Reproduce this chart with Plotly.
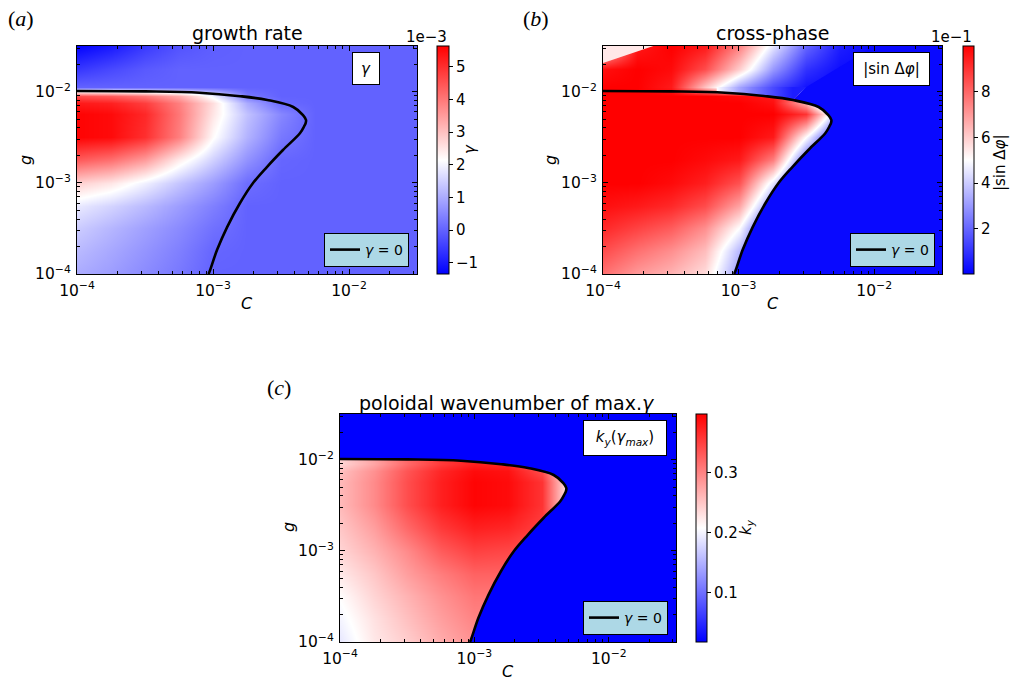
import numpy as np
import plotly.graph_objects as go

W, H = 1010, 681
FONT = "DejaVu Sans"

# ---------------- data ----------------
C_grid = [1.0e-4, 1.78e-4, 3.16e-4, 5.62e-4, 1.0e-3, 1.78e-3, 3.16e-3, 5.62e-3, 1.0e-2, 1.78e-2, 3.16e-2]
g_grid = [1.0e-4, 1.78e-4, 3.16e-4, 5.62e-4, 1.0e-3, 1.78e-3, 3.16e-3, 5.62e-3, 7.59e-3, 8.91e-3,
          1.12e-2, 1.78e-2, 3.16e-2]

# growth rate gamma, in units of 1e-3 (rows: g from bottom to top, cols: C)
gamma_e3 = [
    [1.00, 0.80, 0.55, 0.30, 0.00, 0, 0, 0, 0, 0, 0],
    [1.20, 0.95, 0.68, 0.40, 0.05, 0, 0, 0, 0, 0, 0],
    [1.45, 1.15, 0.85, 0.55, 0.20, 0, 0, 0, 0, 0, 0],
    [1.85, 1.55, 1.20, 0.80, 0.40, 0.00, 0, 0, 0, 0, 0],
    [2.80, 2.50, 1.95, 1.35, 0.80, 0.15, 0, 0, 0, 0, 0],
    [4.40, 4.10, 3.50, 2.40, 1.50, 0.65, 0.05, 0, 0, 0, 0],
    [5.60, 5.50, 5.00, 3.90, 2.20, 1.10, 0.30, 0, 0, 0, 0],
    [5.60, 5.50, 5.10, 4.00, 2.50, 1.30, 0.50, 0.00, 0, 0, 0],
    [5.30, 5.20, 4.80, 3.90, 2.60, 1.00, 0.10, 0.00, 0, 0, 0],
    [4.60, 4.40, 4.00, 3.30, 2.00, 0.30, 0.00, 0, 0, 0, 0],
    [0, 0, 0, 0, 0, 0, 0, 0, 0, 0, 0],
    [-0.60, -0.35, -0.12, 0, 0, 0, 0, 0, 0, 0, 0],
    [-1.30, -1.00, -0.55, -0.20, -0.05, 0, 0, 0, 0, 0, 0],
]

# cross-phase |sin dphi|
sin_dphi = [
    [0.78, 0.70, 0.65, 0.57, 0.30, 0.02, 0.02, 0.02, 0.02, 0.02, 0.02],
    [0.85, 0.78, 0.72, 0.63, 0.36, 0.02, 0.02, 0.02, 0.02, 0.02, 0.02],
    [0.92, 0.87, 0.82, 0.72, 0.50, 0.05, 0.02, 0.02, 0.02, 0.02, 0.02],
    [0.97, 0.95, 0.92, 0.85, 0.68, 0.25, 0.02, 0.02, 0.02, 0.02, 0.02],
    [1.00, 1.00, 0.98, 0.94, 0.84, 0.45, 0.02, 0.02, 0.02, 0.02, 0.02],
    [1.00, 1.00, 1.00, 0.98, 0.95, 0.75, 0.20, 0.02, 0.02, 0.02, 0.02],
    [1.00, 1.00, 1.00, 1.00, 1.00, 0.95, 0.50, 0.02, 0.02, 0.02, 0.02],
    [1.00, 1.00, 1.00, 1.00, 1.00, 1.00, 0.90, 0.30, 0.02, 0.02, 0.02],
    [1.00, 1.00, 1.00, 1.00, 1.00, 0.97, 0.65, 0.02, 0.02, 0.02, 0.02],
    [1.00, 1.00, 1.00, 1.00, 0.98, 0.95, 0.70, 0.02, 0.02, 0.02, 0.02],
    [1.00, 1.00, 0.95, 0.62, 0.33, 0.15, 0.04, 0.02, 0.02, 0.02, 0.02],
    [0.97, 1.00, 0.98, 0.85, 0.60, 0.30, 0.10, 0.03, 0.02, 0.02, 0.02],
    [0.55, 0.95, 1.00, 0.95, 0.75, 0.45, 0.20, 0.06, 0.02, 0.02, 0.02],
]
sin_outside = 0.02
# |sin dphi| just above the top branch of the gamma = 0 line (panel b)
sin_above_C = [6.9e-4, 1.0e-3, 1.26e-3, 1.78e-3, 2.51e-3]
sin_above_v = [0.50, 0.33, 0.25, 0.15, 0.06]

# poloidal wavenumber of max gamma
ky_max = [
    [0.190, 0.225, 0.245, 0.270, 0.290, 0.290, 0.29, 0.29, 0.29, 0.29, 0.29],
    [0.200, 0.230, 0.255, 0.280, 0.300, 0.300, 0.30, 0.30, 0.30, 0.30, 0.30],
    [0.210, 0.240, 0.265, 0.290, 0.310, 0.310, 0.31, 0.31, 0.31, 0.31, 0.31],
    [0.225, 0.250, 0.280, 0.305, 0.325, 0.325, 0.32, 0.32, 0.32, 0.32, 0.32],
    [0.240, 0.265, 0.295, 0.330, 0.350, 0.345, 0.33, 0.32, 0.32, 0.32, 0.32],
    [0.250, 0.280, 0.320, 0.355, 0.375, 0.370, 0.35, 0.30, 0.30, 0.30, 0.30],
    [0.260, 0.295, 0.340, 0.375, 0.395, 0.390, 0.36, 0.18, 0.18, 0.18, 0.18],
    [0.260, 0.295, 0.340, 0.375, 0.395, 0.390, 0.36, 0.18, 0.18, 0.18, 0.18],
    [0.255, 0.290, 0.335, 0.370, 0.390, 0.385, 0.34, 0.18, 0.18, 0.18, 0.18],
    [0.240, 0.275, 0.320, 0.355, 0.375, 0.370, 0.32, 0.18, 0.18, 0.18, 0.18],
    [0.240, 0.275, 0.320, 0.355, 0.375, 0.370, 0.32, 0.18, 0.18, 0.18, 0.18],
    [0.240, 0.275, 0.320, 0.355, 0.375, 0.370, 0.32, 0.18, 0.18, 0.18, 0.18],
    [0.240, 0.275, 0.320, 0.355, 0.375, 0.370, 0.32, 0.18, 0.18, 0.18, 0.18],
]
ky_outside = 0.018

# gamma = 0 boundary
C_b = [1.00e-4, 3.16e-4, 7.94e-4, 1.585e-3, 2.51e-3, 3.89e-3, 4.59e-3, 4.83e-3, 4.80e-3,
       4.68e-3, 4.37e-3, 3.27e-3, 2.49e-3, 1.97e-3, 1.58e-3, 1.27e-3, 1.07e-3, 9.35e-4, 9.23e-4]
g_b = [1.016e-2, 1.005e-2, 9.73e-3, 8.91e-3, 8.09e-3, 6.78e-3, 5.53e-3, 4.89e-3, 4.52e-3,
       4.17e-3, 3.52e-3, 2.29e-3, 1.49e-3, 9.95e-4, 6.01e-4, 3.27e-4, 1.83e-4, 1.03e-4, 1.00e-4]

# extra vertices of the flat outside regions (beyond the axes)
outC_c_start = [5.0e-5, 5.0e-5]
outg_c_start = [1.0e-1, 1.02e-2]
outC_end = [9.1e-4, 1.0e-1, 1.0e-1]
outg_end = [5.0e-5, 5.0e-5, 1.0e-1]
outC_b_start = [1.66e-2, 3.16e-3]
outg_b_start = [5.0e-2, 1.12e-2]
outC_b_end = [9.1e-4, 1.0e-1, 1.0e-1]
outg_b_end = [5.0e-5, 5.0e-5, 5.0e-2]
b_start_index = 4
# strip above the top branch (panel b): start point, then contour points 2..4, then end point
strip_C0, strip_g0 = [6.9e-4, 6.9e-4], [1.12e-2, 9.77e-3]
strip_C1, strip_g1 = [3.16e-3], [1.12e-2]
# pale wedge in the top-left corner of panel (b)
wedge_C = [6.31e-5, 3.72e-4, 6.31e-5]
wedge_g = [1.633e-2, 3.98e-2, 3.98e-2]

gamma_ticks = [-1, 0, 1, 2, 3, 4, 5]
sin_ticks = [0.2, 0.4, 0.6, 0.8]
ky_ticks = [0.1, 0.2, 0.3]
gamma_range = (-1.34, 5.64)
sin_range = (0.003, 0.999)
ky_range = (0.018, 0.398)

# ---------------- helpers ----------------
BWR = [[0, "rgb(0,0,255)"], [0.5, "rgb(255,255,255)"], [1, "rgb(255,0,0)"]]


def bwr_color(v, lo, hi):
    t = min(max((v - lo) / (hi - lo), 0), 1)
    if t < 0.5:
        c = int(round(255 * t / 0.5))
        return f"rgb({c},{c},255)"
    c = int(round(255 * (1 - (t - 0.5) / 0.5)))
    return f"rgb(255,{c},{c})"


L = np.log10
lx = L(np.array(C_grid))
ly = L(np.array(g_grid))
lbx = L(np.array(C_b))
lby = L(np.array(g_b))

# pixel geometry of the three panels
panels = {
    "a": dict(x0=77, x1=417, y0=46, y1=274, cb=437, cbw=12),
    "b": dict(x0=603, x1=942, y0=46, y1=274, cb=963, cbw=11),
    "c": dict(x0=340, x1=676, y0=414, y1=642, cb=696, cbw=11),
}


def px(x):
    return x / W


def py(y):
    return 1 - y / H


fig = go.Figure()

minor_vals = [float(L(k * 10.0 ** e)) for e in (-4, -3, -2) for k in range(2, 10) if k * 10.0 ** e < 3.17e-2]
tick_txt = ["10<sup>−4</sup>", "10<sup>−3</sup>", "10<sup>−2</sup>"]


def add_panel(key, idx, z, zr, tickvals, ticktext):
    p = panels[key]
    xs = "x" if idx == 1 else f"x{idx}"
    ys = "y" if idx == 1 else f"y{idx}"
    cb = dict(
        x=px(p["cb"]), xanchor="left", xpad=0, xref="paper",
        y=(py(p["y0"]) + py(p["y1"])) / 2, yanchor="middle", ypad=0, yref="paper",
        len=(p["y1"] - p["y0"]) / H, lenmode="fraction",
        thickness=p["cbw"], thicknessmode="pixels",
        outlinewidth=1, outlinecolor="black",
        ticks="outside", ticklen=4, tickwidth=1.2, tickcolor="black",
        tickvals=tickvals, ticktext=ticktext,
        tickfont=dict(family=FONT, size=15, color="black"),
    )
    fig.add_trace(go.Heatmap(
        x=lx, y=ly, z=z, zsmooth="best", colorscale=BWR, zmin=zr[0], zmax=zr[1],
        colorbar=cb, xaxis=xs, yaxis=ys, hoverinfo="skip"))
    return xs, ys


def region(C, g, color, xs, ys, **kw):
    fig.add_trace(go.Scatter(x=L(np.array(C)), y=L(np.array(g)), mode="lines", fill="toself",
                             fillcolor=color, line=dict(width=0), xaxis=xs, yaxis=ys,
                             showlegend=False, hoverinfo="skip", **kw))


# panel (a)
xa, ya = add_panel("a", 1, gamma_e3, gamma_range, gamma_ticks,
                   [str(t).replace("-", "−") for t in gamma_ticks])
# panel (b)
xb, yb = add_panel("b", 2, sin_dphi, sin_range, sin_ticks,
                   [str(int(round(t * 10))) for t in sin_ticks])
region(outC_b_start + C_b[b_start_index:] + outC_b_end,
       outg_b_start + g_b[b_start_index:] + outg_b_end,
       bwr_color(sin_outside, *sin_range), xb, yb)
la = L(np.array(sin_above_C))
pos = (la - la[0]) / (la[-1] - la[0])
grad_scale = [[float(p_), bwr_color(v, *sin_range)] for p_, v in zip(pos, sin_above_v)]
region(strip_C0 + C_b[2:5] + strip_C1, strip_g0 + g_b[2:5] + strip_g1, "white", xb, yb,
       fillgradient=dict(type="horizontal", colorscale=grad_scale,
                         start=float(la[0]), stop=float(la[-1])))
region(wedge_C, wedge_g, "rgb(255,232,232)", xb, yb)
# panel (c)
xc, yc = add_panel("c", 3, ky_max, ky_range, ky_ticks, [f"{t:.1f}" for t in ky_ticks])
region(outC_c_start + C_b + outC_end, outg_c_start + g_b + outg_end,
       bwr_color(ky_outside, *ky_range), xc, yc)

# gamma = 0 contour lines with legends
for xs, ys, lg in ((xa, ya, "legend"), (xb, yb, "legend2"), (xc, yc, "legend3")):
    fig.add_trace(go.Scatter(x=lbx, y=lby, mode="lines", name="<i>γ</i> = 0",
                             line=dict(color="black", width=2.6, shape="spline", smoothing=1.0),
                             xaxis=xs, yaxis=ys, legend=lg, showlegend=True, hoverinfo="skip"))


def axis(dom, anchor):
    return dict(
        domain=dom, anchor=anchor, range=[-4, -1.5], tickvals=[-4, -3, -2], ticktext=tick_txt,
        ticks="inside", ticklen=5, tickwidth=1.2, tickcolor="black",
        showline=True, linecolor="black", linewidth=1.2, mirror="allticks",
        showgrid=False, zeroline=False, automargin=False, ticklabelstandoff=2,
        tickfont=dict(family=FONT, size=15.5, color="black"),
        minor=dict(tickvals=minor_vals, ticks="inside", ticklen=2.5, tickwidth=1, tickcolor="black",
                   showgrid=False),
    )


layout_axes = {}
for key, idx in (("a", 1), ("b", 2), ("c", 3)):
    p = panels[key]
    sx = "xaxis" if idx == 1 else f"xaxis{idx}"
    sy = "yaxis" if idx == 1 else f"yaxis{idx}"
    layout_axes[sx] = axis([px(p["x0"]), px(p["x1"])], "y" if idx == 1 else f"y{idx}")
    layout_axes[sy] = axis([py(p["y1"]), py(p["y0"])], "x" if idx == 1 else f"x{idx}")

leg_common = dict(bgcolor="#add8e6", bordercolor="black", borderwidth=1,
                  font=dict(family=FONT, size=14, color="black"),
                  xanchor="right", yanchor="bottom", itemwidth=30, tracegroupgap=0)

fig.update_layout(
    width=W, height=H, margin=dict(l=0, r=0, t=0, b=0, pad=0, autoexpand=False),
    paper_bgcolor="white", plot_bgcolor="white",
    font=dict(family=FONT, size=15, color="black"),
    legend=dict(x=px(409), y=py(267), **leg_common),
    legend2=dict(x=px(935), y=py(267), **leg_common),
    legend3=dict(x=px(668), y=py(635), **leg_common),
    **layout_axes,
)

ann = []


def text(x, y, s, size=15, angle=0, family=FONT, xanchor="center", **kw):
    ann.append(dict(x=px(x), y=py(y), xref="paper", yref="paper", text=s, showarrow=False,
                    xanchor=xanchor, yanchor="middle",
                    textangle=angle, font=dict(family=family, size=size, color="black"), **kw))


# titles
text(247, 33, "growth rate", size=19)
text(772, 33, "cross-phase", size=19)
text(507, 403, "poloidal wavenumber of max.<i>γ</i>", size=19)
# panel letters
text(21, 19, "(<i>a</i>)", size=22, family="Liberation Serif")
text(536, 19, "(<i>b</i>)", size=22, family="Liberation Serif")
text(279, 387, "(<i>c</i>)", size=22, family="Liberation Serif")
# axis labels
text(247, 303, "<i>C</i>", size=16)
text(773, 303, "<i>C</i>", size=16)
text(508, 671, "<i>C</i>", size=16)
text(25, 160, "<i>g</i>", size=16, angle=-90)
text(550, 160, "<i>g</i>", size=16, angle=-90)
text(288, 527, "<i>g</i>", size=16, angle=-90)
# colorbar labels
text(470, 149, "<i>γ</i>", size=15, angle=-90)
text(1000, 163, "|sin Δ<i>φ</i>|", size=15, angle=-90)
text(746, 527, "<i>k<sub>y</sub></i>", size=15, angle=-90)
# colorbar offsets
text(449, 37, "1e−3", size=15, xanchor="right")
text(974, 37, "1e−1", size=15, xanchor="right")
# quantity boxes
box = dict(bgcolor="white", bordercolor="black", borderwidth=1, borderpad=2)
text(366, 68.5, "<i>γ</i>", size=15, width=22, height=27, **box)
text(891.5, 69, "|sin Δ<i>φ</i>|", size=15, width=71, height=28, **box)
text(625, 438, "<i>k<sub>y</sub></i>(<i>γ<sub>max</sub></i>)", size=15, width=78, height=30, **box)

fig.update_layout(annotations=ann)
fig.write_html(
    "out.html",
    config={"displayModeBar": False},
    post_script="document.body.style.margin='0px';document.body.style.overflow='hidden';",
)
